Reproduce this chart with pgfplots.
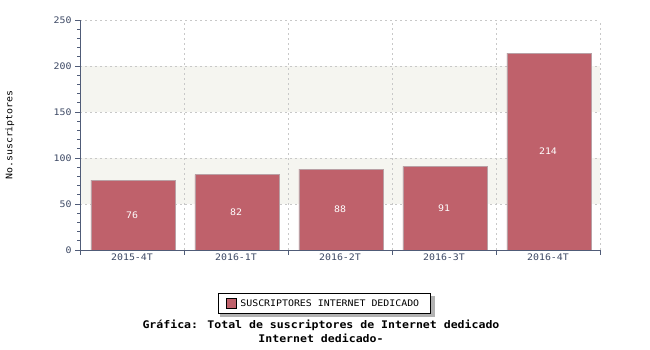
\documentclass[border=0pt]{standalone}
\usepackage{fontspec}
\setmainfont{DejaVu Sans Mono}[FakeStretch=1.1]
\usepackage{pgfplots}
\pgfplotsset{compat=1.18}
\definecolor{barc}{RGB}{191,97,107}
\definecolor{bord}{RGB}{185,160,165}
\definecolor{band}{RGB}{245,245,240}
\definecolor{axc}{RGB}{80,92,120}
\definecolor{tickc}{RGB}{60,72,100}
\definecolor{gridc}{RGB}{200,200,200}
\begin{document}
\begin{tikzpicture}
\path (0,0) rectangle (650pt,350pt);
\fill[black!30] (220pt,33pt) rectangle (435pt,54pt);
\begin{axis}[
  at={(80pt,100pt)}, anchor=south west,
  width=520pt, height=230pt, scale only axis,
  set layers,
  xmin=-0.5, xmax=4.5, ymin=0, ymax=250,
  axis x line*=bottom, axis y line*=left,
  axis line style={axc, line width=0.8pt, -},
  xtick={-0.5,0.5,1.5,2.5,3.5,4.5},
  xticklabels={},
  extra x ticks={0,1,2,3,4},
  extra x tick labels={2015-4T,2016-1T,2016-2T,2016-3T,2016-4T},
  extra x tick style={major tick length=0pt, grid=none},
  ytick={0,50,...,250},
  minor y tick num=4,
  tick align=outside,
  major tick length=5pt, minor tick length=3pt,
  tick style={axc, line width=0.8pt},
  grid=major,
  major grid style={gridc, dash pattern=on 2pt off 3pt, line width=0.8pt},
  ticklabel style={font=\fontsize{9}{10}\selectfont, text=tickc},
  /pgf/number format/assume math mode=true,
  ylabel={No.suscriptores},
  ylabel style={at={(axis description cs:-0.135,0.5)}, anchor=center, font=\fontsize{9}{10}\selectfont},
  legend style={at={(0.47,-0.2326)}, anchor=center, draw=black, line width=0.8pt, fill=white,
    font=\fontsize{9}{10}\selectfont, inner xsep=7pt, inner ysep=4pt,
    nodes={inner xsep=4pt}},
  legend image code/.code={\draw[#1, draw=black, line width=0.8pt] (0pt,-4.5pt) rectangle (10pt,5.5pt);},
]
\addplot[on layer=axis background, fill=band, draw=none, forget plot] coordinates {(-0.5,50) (4.5,50) (4.5,100) (-0.5,100)} -- cycle;
\addplot[on layer=axis background, fill=band, draw=none, forget plot] coordinates {(-0.5,150) (4.5,150) (4.5,200) (-0.5,200)} -- cycle;
\addplot[ybar, bar width=0.81, bar shift=0.01, fill=barc, draw=bord, line width=0.8pt,
  nodes near coords, visualization depends on=y \as \rawy,
  every node near coord/.append style={anchor=center, yshift=-\rawy*0.46pt, text=white, font=\fontsize{9}{10}\selectfont},
] coordinates {(0,76) (1,82) (2,88) (3,91) (4,214)};
\addlegendentry{SUSCRIPTORES INTERNET DEDICADO}
\end{axis}
\node[font=\fontsize{10.5}{12}\selectfont\bfseries] at (321pt,25pt) {Gráfica: Total de suscriptores de Internet dedicado};
\node[font=\fontsize{10.5}{12}\selectfont\bfseries] at (321pt,12pt) {Internet dedicado-};
\end{tikzpicture}
\end{document}
